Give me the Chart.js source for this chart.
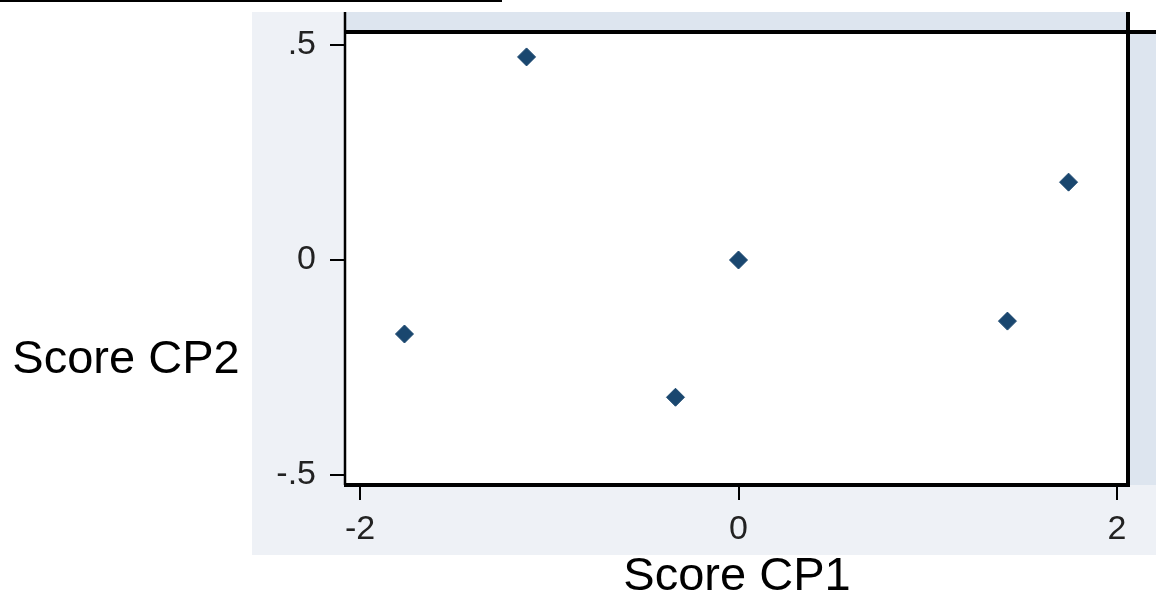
<!DOCTYPE html>
<html>
<head>
<meta charset="utf-8">
<script src="https://cdn.jsdelivr.net/npm/chart.js@4"></script>
<style>
  html, body { margin: 0; padding: 0; background: #ffffff; }
  #wrap { width: 1156px; height: 605px; }
</style>
</head>
<body>
<div id="wrap"><canvas id="c" width="1156" height="605"></canvas></div>
<script>
// Principal component scores
const scoreCP1 = [-1.12, -1.765, -0.333, 0.0, 1.421, 1.744];
const scoreCP2 = [0.472, -0.172, -0.319, 0.0, -0.142, 0.181];

// Axis ticks and their labels
const xTickValues = [-2, 0, 2];
const xTickLabels = ['-2', '0', '2'];
const yTickValues = [-0.5, 0, 0.5];
const yTickLabels = ['-.5', '0', '.5'];

const xTitle = 'Score CP1';
const yTitle = 'Score CP2';

const FONT = '"Liberation Sans", Arial, sans-serif';
const OUTER_BG = '#eef1f6';
const STRIP_BG = '#dde5ef';
const MARKER = '#1a476f';

// Backgrounds, frame lines and the horizontal y-axis title
const framePlugin = {
  id: 'frame',
  beforeDraw(chart) {
    const { ctx, chartArea: a } = chart;
    ctx.save();
    ctx.fillStyle = '#ffffff';
    ctx.fillRect(0, 0, chart.width, chart.height);
    // outer graph region
    ctx.fillStyle = OUTER_BG;
    ctx.fillRect(252, 12, chart.width - 252, 543);
    // shaded strips above and to the right of the plot region
    ctx.fillStyle = STRIP_BG;
    ctx.fillRect(a.left, 12, a.right - a.left, a.top - 12);
    ctx.fillRect(a.right, a.top, chart.width - a.right, a.bottom - a.top);
    ctx.fillStyle = '#ffffff';
    ctx.fillRect(a.right + 2, 12, chart.width - a.right, a.top - 12);
    // plot region
    ctx.fillStyle = '#ffffff';
    ctx.fillRect(a.left, a.top, a.right - a.left, a.bottom - a.top);
    ctx.restore();
  },
  afterDraw(chart) {
    const { ctx, chartArea: a } = chart;
    ctx.save();
    ctx.strokeStyle = '#000000';
    ctx.lineCap = 'butt';
    // rule at the very top
    ctx.lineWidth = 2;
    ctx.beginPath(); ctx.moveTo(0, 1); ctx.lineTo(502, 1); ctx.stroke();
    // left axis line
    ctx.lineWidth = 2.5;
    ctx.beginPath(); ctx.moveTo(a.left - 1, 12); ctx.lineTo(a.left - 1, a.bottom); ctx.stroke();
    // top line
    ctx.lineWidth = 4;
    ctx.beginPath(); ctx.moveTo(a.left - 2, a.top); ctx.lineTo(chart.width, a.top); ctx.stroke();
    // right line
    ctx.beginPath(); ctx.moveTo(a.right, 12); ctx.lineTo(a.right, a.bottom + 2); ctx.stroke();
    // bottom axis line
    ctx.beginPath(); ctx.moveTo(a.left - 2, a.bottom); ctx.lineTo(a.right + 2, a.bottom); ctx.stroke();
    // y-axis title, written horizontally
    ctx.fillStyle = '#000000';
    ctx.font = '47px ' + FONT;
    ctx.textAlign = 'center';
    ctx.textBaseline = 'middle';
    ctx.fillText(yTitle, 126, 360);
    ctx.restore();
  }
};

new Chart(document.getElementById('c'), {
  type: 'scatter',
  data: {
    datasets: [{
      data: scoreCP1.map((x, i) => ({ x: x, y: scoreCP2[i] })),
      pointStyle: 'rectRot',
      pointRadius: 9,
      pointBackgroundColor: MARKER,
      pointBorderColor: MARKER,
      pointBorderWidth: 1
    }]
  },
  options: {
    responsive: false,
    animation: false,
    devicePixelRatio: 1,
    layout: { padding: { left: 252, right: 28, top: 32, bottom: 0 } },
    plugins: { legend: { display: false }, tooltip: { enabled: false } },
    scales: {
      x: {
        type: 'linear',
        min: -2.074,
        max: 2.058,
        afterBuildTicks: s => { s.ticks = xTickValues.map(v => ({ value: v })); },
        afterFit: s => { s.height = 120; },
        ticks: {
          callback: (v) => xTickLabels[xTickValues.indexOf(v)],
          font: { family: FONT, size: 34 },
          color: '#222222',
          padding: 9,
          maxRotation: 0,
          autoSkip: false
        },
        grid: {
          drawOnChartArea: false,
          drawTicks: true,
          tickLength: 15,
          color: '#000000',
          lineWidth: 2
        },
        border: { display: false },
        title: {
          display: true,
          text: xTitle,
          font: { family: FONT, size: 47 },
          color: '#000000',
          padding: { top: 0, bottom: 0 }
        }
      },
      y: {
        type: 'linear',
        min: -0.523,
        max: 0.530,
        afterBuildTicks: s => { s.ticks = yTickValues.map(v => ({ value: v })); },
        afterFit: s => { s.width = 94; s.paddingTop = 0; s.paddingBottom = 0; },
        ticks: {
          callback: (v) => yTickLabels[yTickValues.indexOf(v)],
          font: { family: FONT, size: 34, lineHeight: 1 },
          color: '#222222',
          padding: 14,
          autoSkip: false
        },
        grid: {
          drawOnChartArea: false,
          drawTicks: true,
          tickLength: 16,
          color: '#000000',
          lineWidth: 2
        },
        border: { display: false }
      }
    }
  },
  plugins: [framePlugin]
});
</script>
</body>
</html>
